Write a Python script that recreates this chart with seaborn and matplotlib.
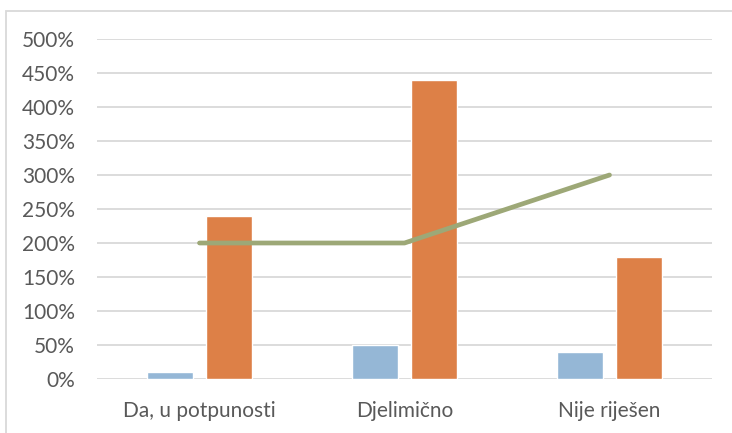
import matplotlib
matplotlib.use('Agg')
import matplotlib.pyplot as plt
import pandas as pd
import seaborn as sns
from matplotlib.patches import Rectangle
from matplotlib.ticker import PercentFormatter

categories = ['Da, u potpunosti', 'Djelimično', 'Nije riješen']
series_a = [10, 50, 40]        # blue bars, %
series_b = [240, 440, 180]     # orange bars, %
series_line = [200, 200, 300]  # green line, %

sns.set_style('white')
plt.rcParams['font.family'] = ['Lato', 'DejaVu Sans']

df = pd.DataFrame({
    'category': categories * 2,
    'series': ['a'] * 3 + ['b'] * 3,
    'value': series_a + series_b,
})

fig = plt.figure(figsize=(7.32, 4.33), dpi=100)
ax = fig.add_axes([97 / 732, 1 - 379 / 433, 615 / 732, 340 / 433])

sns.barplot(data=df, x='category', y='value', hue='series', order=categories,
            palette=['#95B7D6', '#DD8047'], width=0.58, gap=0.22,
            saturation=1, legend=False, ax=ax, zorder=3)
ax.plot(range(len(categories)), series_line, color='#9DA877', lw=3.4,
        solid_capstyle='round', zorder=4)

ax.set_ylim(0, 500)
ax.set_xlim(-0.5, len(categories) - 0.5)
ax.set_yticks(range(0, 501, 50))
ax.yaxis.set_major_formatter(PercentFormatter(decimals=0))
ax.grid(axis='y', color='#D9D9D9', lw=1.3, zorder=0)
ax.set_axisbelow(True)
for s in ax.spines.values():
    s.set_visible(False)
ax.set_xlabel('')
ax.set_ylabel('')
ax.tick_params(axis='both', length=0, labelsize=15, colors='#595959')
ax.tick_params(axis='y', pad=16)
ax.tick_params(axis='x', pad=16)

# chart area border (top and left visible)
fig.add_artist(Rectangle((5.5 / 732, -0.1), 2, 1 - 10.5 / 433 + 0.1,
                         transform=fig.transFigure, fill=False,
                         edgecolor='#D9D9D9', lw=1.3))

fig.savefig('out.png', dpi=100)
